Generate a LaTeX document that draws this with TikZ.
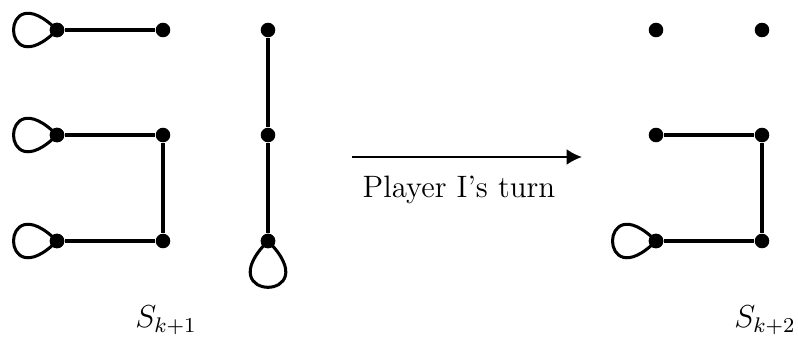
\documentclass[tikz,border=0pt]{standalone}
\usetikzlibrary{arrows.meta}
\begin{document}
\begin{tikzpicture}[x=0.378pt,y=-0.378pt,
  vtx/.style={circle,fill=black,inner sep=0pt,minimum size=5.5pt},
  edge/.style={line width=1.15pt},
  lp/.style={line width=1.15pt},
  txt/.style={font=\fontsize{11.7}{14}\selectfont},
]
\useasboundingbox (0,0) rectangle (798,338);
% left graph
\node[vtx] (a1) at (57,30) {};
\node[vtx] (b1) at (163,30) {};
\node[vtx] (a2) at (57,135) {};
\node[vtx] (b2) at (163,135) {};
\node[vtx] (a3) at (57,241) {};
\node[vtx] (b3) at (163,241) {};
\node[vtx] (c1) at (268,30) {};
\node[vtx] (c2) at (268,135) {};
\node[vtx] (c3) at (268,241) {};
\draw[edge] (a1) -- (b1);
\draw[edge] (a2) -- (b2) -- (b3) -- (a3);
\draw[edge] (c1) -- (c2) -- (c3);
\draw[lp] (a1.center) to[out=135,in=225,distance=31pt] (a1.center);
\draw[lp] (a2.center) to[out=135,in=225,distance=31pt] (a2.center);
\draw[lp] (a3.center) to[out=135,in=225,distance=31pt] (a3.center);
\draw[lp] (c3.center) to[out=-135,in=-45,distance=33pt] (c3.center);
\node[vtx] at (a1) {};
\node[vtx] at (a2) {};
\node[vtx] at (a3) {};
\node[vtx] at (c3) {};
% right graph
\node[vtx] (d1) at (656,30) {};
\node[vtx] (e1) at (762,30) {};
\node[vtx] (d2) at (656,135) {};
\node[vtx] (e2) at (762,135) {};
\node[vtx] (d3) at (656,241) {};
\node[vtx] (e3) at (762,241) {};
\draw[edge] (d2) -- (e2) -- (e3) -- (d3);
\draw[lp] (d3.center) to[out=135,in=225,distance=31pt] (d3.center);
\node[vtx] at (d3) {};
% arrow
\coordinate (p) at (352,157);
\coordinate (q) at (582,157);
\draw[line width=0.85pt,-{Latex[length=5.8pt,width=6pt]}] (p) -- (q);
\node[txt] (lab) at (459,190) {Player I's turn};
\node[txt] (s1) at (166,320) {$S_{k+1}$};
\node[txt] (s2) at (765,320) {$S_{k+2}$};
\end{tikzpicture}
\end{document}
